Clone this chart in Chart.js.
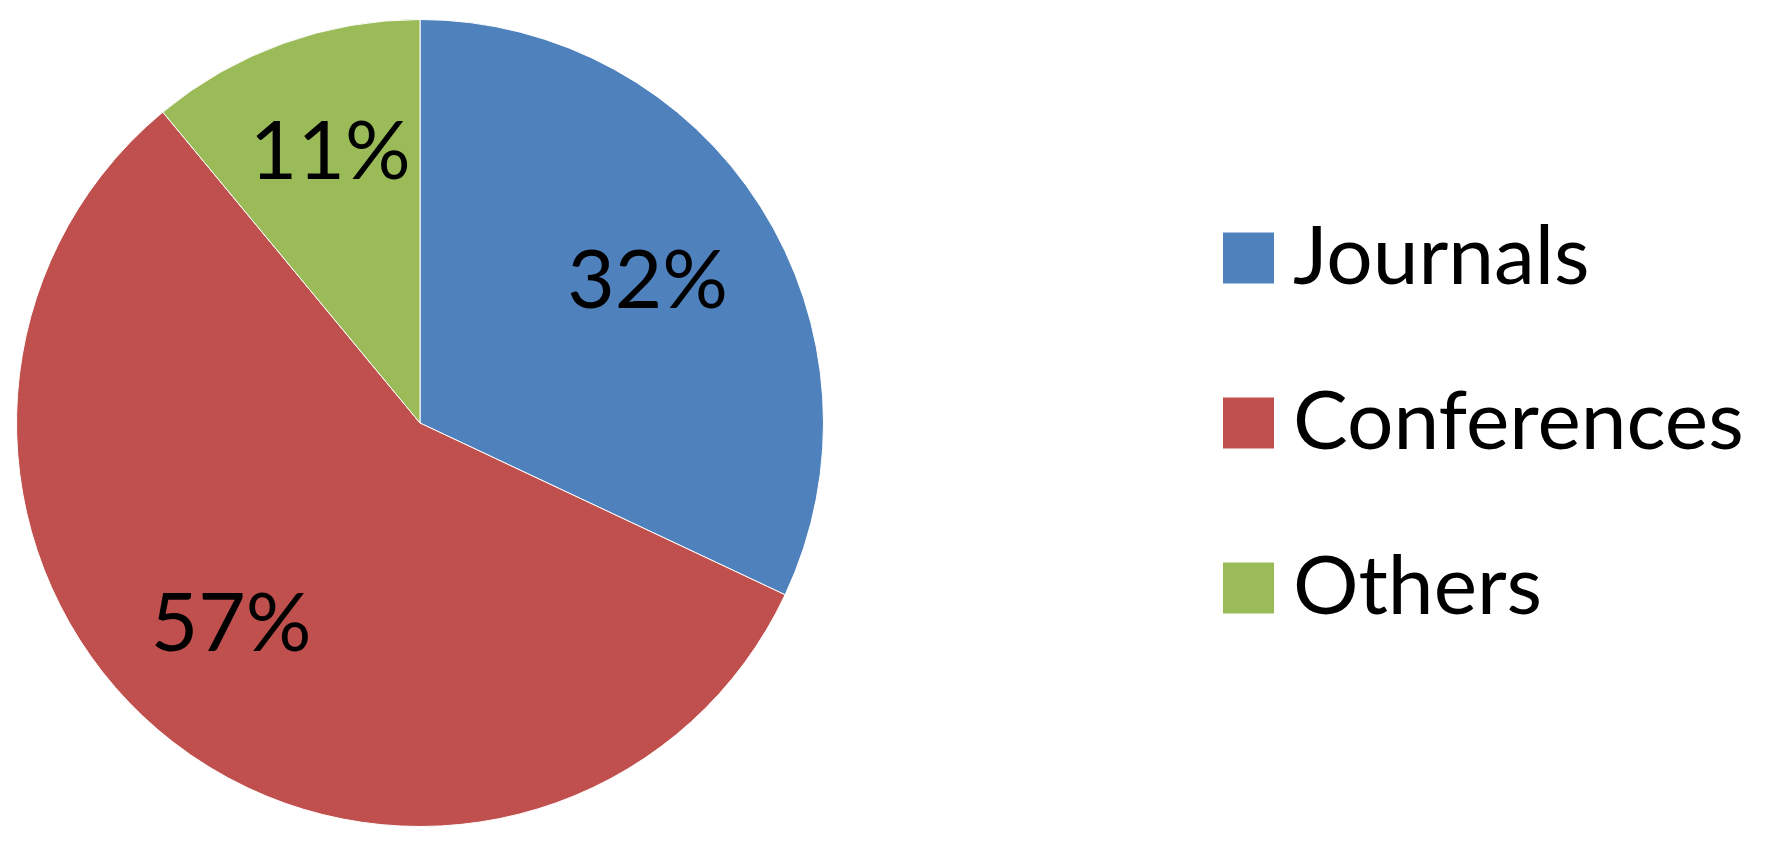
<!DOCTYPE html>
<html>
<head>
<meta charset="utf-8">
<script src="https://cdn.jsdelivr.net/npm/chart.js@4.4.0/dist/chart.umd.min.js"></script>
<style>
  html, body { margin: 0; padding: 0; background: #fff; overflow: hidden; }
  #chart { display: block; }
</style>
</head>
<body>
<canvas id="chart" height="843"></canvas>
<script>
// data
const categories = ['Journals', 'Conferences', 'Others'];
const shares = [32, 57, 11];
const colors = ['#4F81BD', '#C0504D', '#9BBB59'];

// look
const FAMILY = 'Lato';
const FONT = 82;
const ROW_GAP = 165;                 // distance between legend rows
const LEG_PAD = ROW_GAP - FONT;
const LEG_STROKE = 44;               // thick stroke draws the colour square
const LEG_BOX = 51 - LEG_STROKE;
const labelFrac = [0.668, 0.68, 0.712];
const labelTurn = [0, 5.7, 1.6];     // degrees, nudges along the arc

// pie centred at page x=420, legend squares start at page x=1223.
// the canvas is made wider and pulled left so the pie area can be centred there
const legendLeft = 1223 + LEG_STROKE / 2 - LEG_PAD;
const SHIFT = legendLeft - 2 * 420;
const mctx = document.createElement('canvas').getContext('2d');
mctx.font = FONT + 'px "' + FAMILY + '"';
const textW = Math.max(...categories.map(c => mctx.measureText(c).width));
const legendW = LEG_PAD + LEG_BOX + FONT / 2 + textW + 10;
const padRight = 1770 - legendLeft - legendW;

const canvas = document.getElementById('chart');
canvas.width = Math.round(1770 + SHIFT);
canvas.style.marginLeft = (-SHIFT) + 'px';

const pieLabels = {
  id: 'pieLabels',
  afterDatasetsDraw(chart) {
    const ctx = chart.ctx;
    const meta = chart.getDatasetMeta(0);
    ctx.save();
    ctx.font = FONT + 'px "' + FAMILY + '"';
    ctx.fillStyle = '#000';
    ctx.textAlign = 'center';
    ctx.textBaseline = 'alphabetic';
    const cap = ctx.measureText('H').actualBoundingBoxAscent;
    meta.data.forEach((arc, i) => {
      const p = arc.getProps(['x', 'y', 'startAngle', 'endAngle', 'outerRadius'], true);
      const mid = (p.startAngle + p.endAngle) / 2 + labelTurn[i] * Math.PI / 180;
      const r = p.outerRadius * labelFrac[i];
      ctx.fillText(shares[i] + '%', p.x + Math.cos(mid) * r, p.y + Math.sin(mid) * r + cap / 2);
    });
    ctx.restore();
  }
};

new Chart(canvas, {
  type: 'pie',
  data: {
    labels: categories,
    datasets: [{
      data: shares,
      backgroundColor: colors,
      borderColor: '#ffffff',
      borderWidth: 1
    }]
  },
  options: {
    responsive: false,
    animation: false,
    layout: { padding: { left: 0, right: padRight, top: 19, bottom: 16 } },
    plugins: {
      tooltip: { enabled: false },
      legend: {
        position: 'right',
        align: 'center',
        labels: {
          color: '#000',
          font: { family: FAMILY, size: FONT },
          padding: LEG_PAD,
          boxWidth: LEG_BOX,
          boxHeight: LEG_BOX,
          generateLabels: (chart) => chart.data.labels.map((text, i) => ({
            text: text,
            fillStyle: colors[i],
            strokeStyle: colors[i],
            lineWidth: LEG_STROKE,
            fontColor: '#000',
            hidden: false,
            index: i
          }))
        }
      }
    }
  },
  plugins: [pieLabels]
});
</script>
</body>
</html>
